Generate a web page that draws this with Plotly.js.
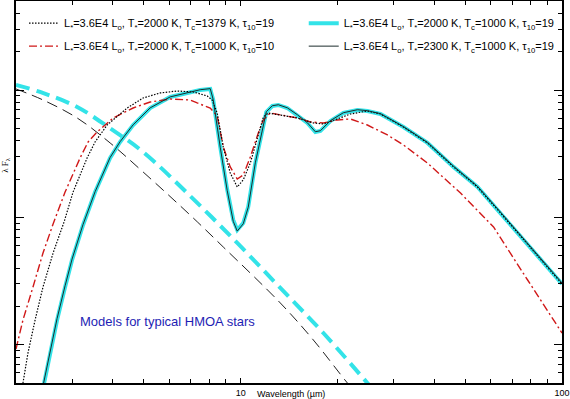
<!DOCTYPE html>
<html>
<head>
<meta charset="utf-8">
<script src="https://cdn.plot.ly/plotly-3.0.1.min.js"></script>
<style>html,body{margin:0;padding:0;background:#fff;}#chart{width:570px;height:399px;}</style>
</head>
<body>
<div id="chart"></div>
<script>
// ---- data (wavelength in micron, lambda*F_lambda arbitrary units) ----
const lamModel = [2.393, 2.444, 2.553, 2.684, 2.843, 2.989, 3.234, 3.525, 3.925, 4.217, 4.629, 5.23, 6.037, 6.969, 7.485, 8.042, 8.217, 8.641, 9.085, 9.485, 9.761, 10.19, 10.56, 11.11, 11.68, 12.02, 12.55, 13.10, 13.97, 15.01, 16.13, 17.08, 17.71, 19.02, 20.88, 23.09, 24.80, 27.23, 32.11, 38.14, 45.96, 54.60, 64.41, 75.94, 90.20, 100];
const fCyan = [0.381, 0.50, 0.86, 1.56, 2.84, 4.63, 8.71, 15.8, 29.3, 39.1, 53.1, 72.2, 88.1, 96.5, 100, 101.9, 83.5, 35.7, 16.4, 9.53, 7.96, 9.03, 12.1, 26.7, 48.5, 67.2, 74.9, 76.3, 72.2, 63.7, 55.1, 46.8, 47.7, 57.1, 66.0, 69.7, 68.4, 64.8, 51.2, 38.4, 24.9, 17.3, 10.8, 6.64, 4.07, 3.00];
const fBlack2300 = [0.40, 0.52, 0.89, 1.6, 2.9, 4.7, 8.8, 15.9, 29.5, 39.3, 53.3, 72.4, 88.3, 96.8, 100.5, 102.5, 84.0, 35.5, 16.2, 9.3, 7.8, 8.9, 12.0, 26.8, 48.8, 67.5, 75.2, 76.6, 72.5, 64.0, 55.3, 47.0, 47.9, 57.4, 66.3, 70.0, 68.8, 65.2, 51.6, 38.8, 25.2, 17.5, 10.95, 6.75, 4.15, 3.05];

const lamDot = [2.065, 2.102, 2.179, 2.293, 2.427, 2.609, 2.822, 3.010, 3.329, 3.525, 3.842, 4.435, 4.973, 5.618, 6.348, 7.120, 7.872, 8.155, 8.454, 8.830, 9.284, 9.761, 10.19, 10.72, 11.27, 11.77, 12.19, 13.29, 15.01, 16.84, 18.09, 20.0, 21.95, 24.80, 27.23, 32.11, 38.14, 45.96, 54.60, 64.41, 75.94, 90.20, 100];
const fDot = [0.381, 0.50, 0.86, 1.56, 2.84, 5.25, 9.19, 15.8, 29.3, 39.1, 53.1, 72.2, 86.6, 94.8, 98.2, 96.5, 89.8, 83.5, 66.0, 35.7, 22.3, 17.3, 19.7, 26.7, 42.8, 61.4, 66.0, 63.7, 60.3, 55.1, 54.1, 59.2, 64.8, 68.4, 64.8, 51.2, 38.4, 24.9, 17.3, 10.8, 6.64, 4.07, 3.00];

const lamRed = [2.0, 2.102, 2.259, 2.427, 2.609, 2.843, 3.166, 3.353, 3.576, 4.010, 4.629, 5.230, 6.037, 6.969, 7.326, 8.042, 8.454, 8.830, 9.284, 9.761, 10.19, 10.72, 11.35, 11.77, 12.37, 13.29, 15.01, 16.48, 18.09, 20.0, 21.95, 24.80, 28.63, 32.11, 38.14, 48.33, 61.24, 78.16, 100];
const fRed = [0.925, 1.56, 2.84, 5.25, 8.87, 15.8, 29.3, 39.1, 46.8, 60.3, 72.2, 80.5, 85.0, 83.5, 79.1, 72.2, 62.5, 35.7, 24.9, 20.0, 21.5, 29.8, 46.0, 58.2, 66.0, 63.7, 60.3, 56.1, 55.1, 58.2, 59.2, 53.1, 44.4, 37.0, 26.7, 15.5, 8.40, 3.22, 1.235];

const lamStar2000 = [2.0, 2.376, 3.10, 3.925, 4.973, 6.97, 9.76, 13.29, 18.09, 24.8, 27.23];
const fStar2000 = [109.5, 96.5, 73.6, 50.0, 32.6, 14.7, 6.29, 2.79, 1.235, 0.5, 0.381];
const lamStar2300 = [2.0, 2.427, 3.10, 3.925, 4.973, 6.97, 8.83, 13.29, 16.84, 21.49, 23.59];
const fStar2300 = [101.9, 83.5, 60.3, 38.4, 22.7, 10.4, 5.85, 2.125, 1.088, 0.5, 0.381];

const xMajor = [10, 100];
const xMajorText = ['10', '100'];
const xMinor = [3, 4, 5, 6, 7, 8, 9, 20, 30, 40, 50, 60, 70, 80, 90];
const yMajor = [1, 10, 100];
const yMinor = [0.6, 0.7, 0.8, 0.9, 2, 3, 4, 5, 6, 7, 8, 9, 20, 30, 40, 50, 60, 70, 80, 90, 200, 300, 400];

const lbl1 = 'L<sub>*</sub>=3.6E4 L<sub>o</sub>, T<sub>*</sub>=2000 K, T<sub>c</sub>=1379 K, τ<sub>10</sub>=19';
const lbl2 = 'L<sub>*</sub>=3.6E4 L<sub>o</sub>, T<sub>*</sub>=2000 K, T<sub>c</sub>=1000 K, τ<sub>10</sub>=10';
const lbl3 = 'L<sub>*</sub>=3.6E4 L<sub>o</sub>, T<sub>*</sub>=2000 K, T<sub>c</sub>=1000 K, τ<sub>10</sub>=19';
const lbl4 = 'L<sub>*</sub>=3.6E4 L<sub>o</sub>, T<sub>*</sub>=2300 K, T<sub>c</sub>=1000 K, τ<sub>10</sub>=19';

const FONT = 'Liberation Sans, Arial, Helvetica, sans-serif';

const traces = [
  {x: lamStar2300, y: fStar2300, mode: 'lines', showlegend: false,
   line: {color: '#222', width: 1, dash: '11px,6px', shape: 'spline'}},
  {x: lamStar2000, y: fStar2000, mode: 'lines', showlegend: false,
   line: {color: '#33e3e8', width: 4, dash: '14px,7px', shape: 'spline'}},
  {x: lamModel, y: fCyan, mode: 'lines', name: lbl3, legend: 'legend2', legendgroup: 'c', legendrank: 1,
   line: {color: '#33e3e8', width: 4}},
  {x: lamRed, y: fRed, mode: 'lines', name: lbl2, legend: 'legend', legendgroup: 'b', legendrank: 2,
   line: {color: '#d01818', width: 1.4, dash: '8px,3px,2px,3px'}},
  {x: lamDot, y: fDot, mode: 'lines', name: lbl1, legend: 'legend', legendgroup: 'a', legendrank: 1,
   line: {color: '#000', width: 1.2, dash: '1.5px,1.5px'}},
  {x: lamModel, y: fBlack2300, mode: 'lines', name: lbl4, legend: 'legend2', legendgroup: 'd', legendrank: 2,
   line: {color: '#1c2c2c', width: 1}}
];

const legCommon = {
  xanchor: 'left', yanchor: 'top', bgcolor: 'rgba(0,0,0,0)', borderwidth: 0,
  font: {family: FONT, size: 11, color: '#000'}, traceorder: 'grouped', tracegroupgap: 4
};

const layout = {
  width: 570, height: 399,
  margin: {l: 16, r: 8, t: 1, b: 16, pad: 0},
  paper_bgcolor: '#fff', plot_bgcolor: '#fff',
  showlegend: true,
  legend: Object.assign({x: 0.0147, y: 0.980}, legCommon),
  legend2: Object.assign({x: 0.527, y: 0.980}, legCommon),
  xaxis: {
    type: 'log', range: [Math.log10(2), 2], tickmode: 'array', tickvals: xMajor, ticktext: xMajorText,
    ticks: 'inside', ticklen: 5, tickwidth: 1, tickcolor: '#000',
    showline: true, linewidth: 2, linecolor: '#000', mirror: 'allticks',
    showgrid: false, zeroline: false,
    tickfont: {family: FONT, size: 9, color: '#000'},
    minor: {tickmode: 'array', tickvals: xMinor, ticks: 'inside', ticklen: 4, tickwidth: 1, tickcolor: '#000', showgrid: false}
  },
  yaxis: {
    type: 'log', range: [Math.log10(0.5), Math.log10(500)], tickmode: 'array', tickvals: yMajor,
    showticklabels: false,
    ticks: 'inside', ticklen: 8, tickwidth: 1, tickcolor: '#000',
    showline: true, linewidth: 2, linecolor: '#000', mirror: 'allticks',
    showgrid: false, zeroline: false,
    minor: {tickmode: 'array', tickvals: yMinor, ticks: 'inside', ticklen: 4, tickwidth: 1, tickcolor: '#000', showgrid: false}
  },
  annotations: [
    {text: 'Models for typical HMOA stars', xref: 'paper', yref: 'paper', x: 0.113, y: 0.162,
     xanchor: 'left', yanchor: 'middle', showarrow: false, font: {family: FONT, size: 13, color: '#1e1eb4'}},
    {text: 'Wavelength (µm)', xref: 'paper', yref: 'paper', x: 0.5037, y: -0.029,
     xanchor: 'center', yanchor: 'middle', showarrow: false, font: {family: FONT, size: 9, color: '#000'}},
    {text: 'λ F<sub>λ</sub>', xref: 'paper', yref: 'paper', x: -0.0185, y: 0.571, textangle: -90,
     xanchor: 'center', yanchor: 'middle', showarrow: false, font: {family: 'Liberation Serif, Times New Roman, serif', size: 9, color: '#000'}}
  ]
};

Plotly.newPlot('chart', traces, layout, {staticPlot: true, displayModeBar: false});
</script>
</body>
</html>
